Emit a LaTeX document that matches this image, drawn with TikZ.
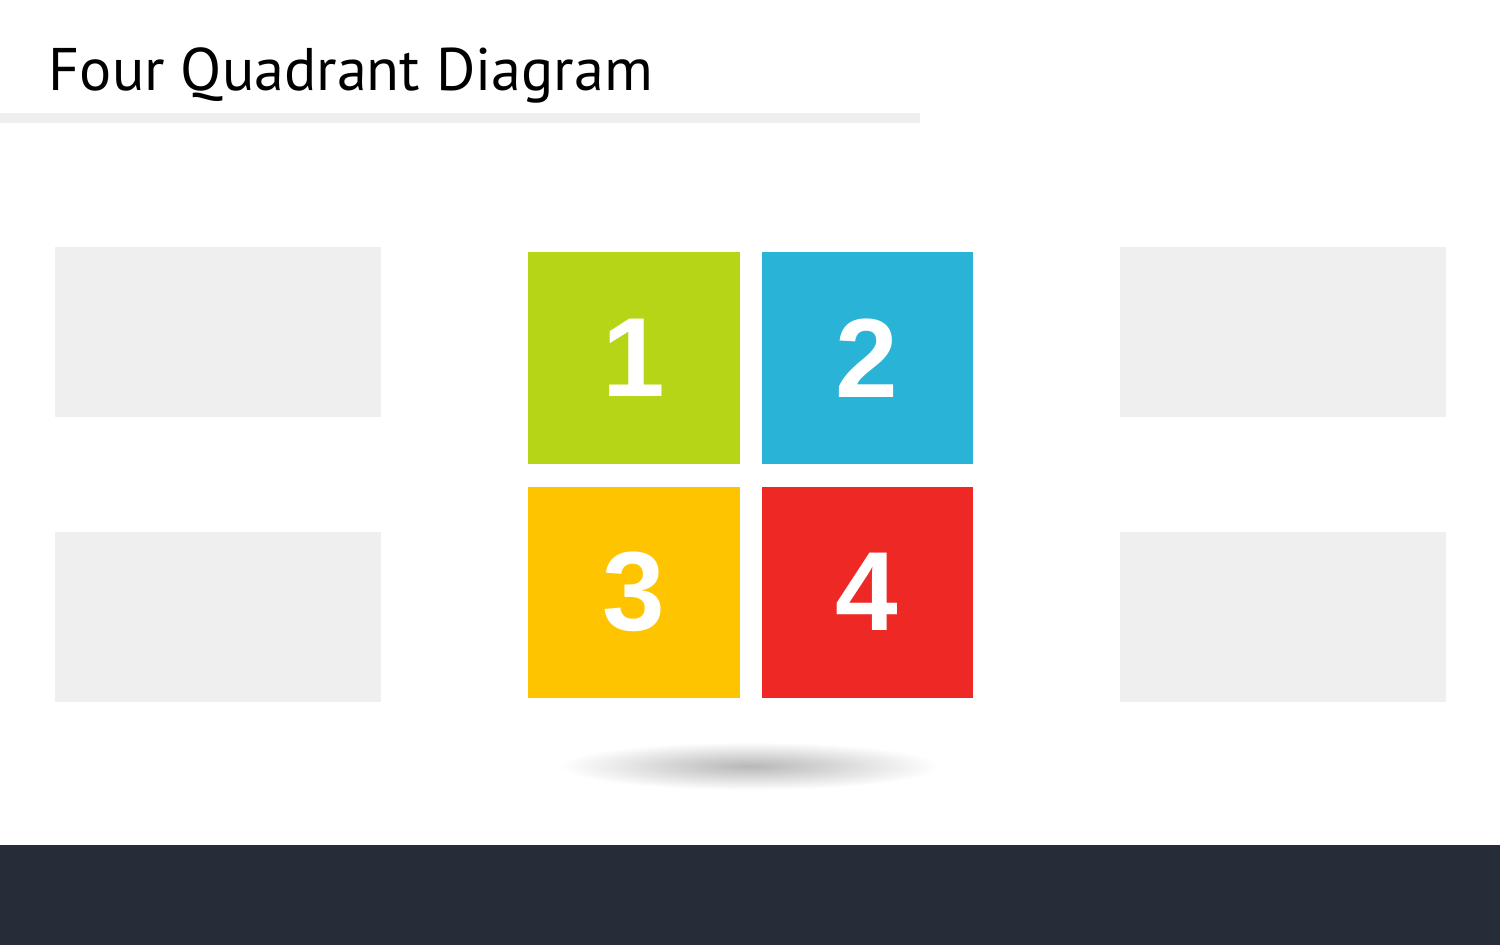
\documentclass[tikz,border=0pt]{standalone}
\usepackage{fontspec}
\setmainfont{PT Sans}
\newfontfamily\digitfont{Liberation Sans}
\usetikzlibrary{positioning}
\definecolor{quadgreen}{HTML}{B5D516}
\definecolor{quadblue}{HTML}{29B3D7}
\definecolor{quadyellow}{HTML}{FFC400}
\definecolor{quadred}{HTML}{EE2825}
\definecolor{panelgray}{HTML}{EFEFEF}
\definecolor{footdark}{HTML}{272D38}

\begin{document}
\begin{tikzpicture}[x=0.01cm, y=-0.01cm,
    quad/.style={minimum size=2.11cm, inner sep=0pt, outer sep=0pt, text=white, font=\digitfont\bfseries\fontsize{32}{32}\selectfont},
    blank/.style={fill=panelgray, minimum width=3.26cm, minimum height=1.70cm, inner sep=0pt}]
    % canvas and footer band
    \fill[white] (0,0) rectangle (1500,945);
    \fill[footdark] (0,845) rectangle (1500,945);

    % title and rule
    \node[anchor=base west, inner sep=0pt, font=\fontsize{17.1}{20}\selectfont] (title) at (48,90) {Four Quadrant Diagram};
    \fill[panelgray] (0,113) rectangle (920,123);

    % shadow under the grid
    \shade[inner color=black!28, outer color=white] (750,766) ellipse (1.9cm and 0.24cm);

    % the four squares
    \node[quad, fill=quadgreen] (q1) at (634,358) {1};
    \node[quad, fill=quadblue, right=0.22cm of q1] (q2) {2};
    \node[quad, fill=quadyellow, below=0.23cm of q1] (q3) {3};
    \node[quad, fill=quadred, right=0.22cm of q3] (q4) {4};

    % empty panels
    \node[blank] (tl) at (218,332) {};
    \node[blank] (bl) at (218,617) {};
    \node[blank] (tr) at (1283,332) {};
    \node[blank] (br) at (1283,617) {};
\end{tikzpicture}
\end{document}
